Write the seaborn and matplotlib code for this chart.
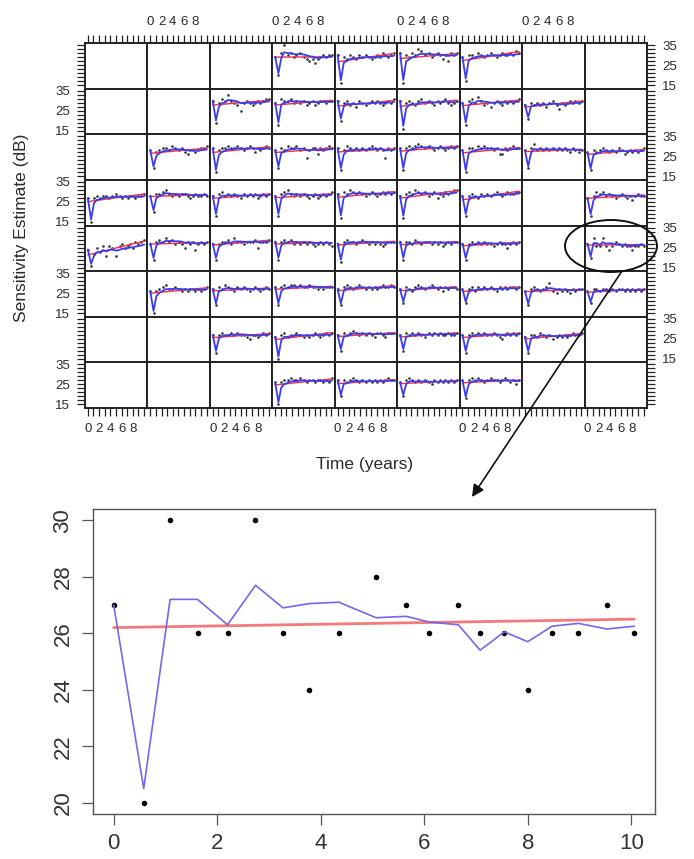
import numpy as np
import pandas as pd
import matplotlib
matplotlib.use("Agg")
import matplotlib.pyplot as plt
import seaborn as sns
from matplotlib.patches import Ellipse, FancyArrowPatch

sns.set_theme(style="white")
plt.rcParams['font.family'] = ['Liberation Sans', 'DejaVu Sans']

# ---------------- data ----------------
VISIT_YEARS = [0.0, 0.58, 1.09, 1.62, 2.20, 2.74, 3.27, 3.78, 4.35, 5.07,
               5.65, 6.09, 6.66, 7.08, 7.55, 8.00, 8.47, 8.98, 9.53, 10.06]

# enlarged location (row 5, column 9)
ZOOM_POINTS = [27, 20, 30, 26, 26, 30, 26, 24, 26, 28, 27, 26, 27, 26, 26, 24, 26, 26, 27, 26]
ZOOM_ESTIMATE = [27.0, 20.5, 27.2, 27.2, 26.3, 27.7, 26.9, 27.05, 27.1, 26.55,
                 26.6, 26.4, 26.3, 25.4, 26.05, 25.7, 26.25, 26.35, 26.15, 26.25]
ZOOM_TREND = [26.2, 26.5]

# gain of the running estimate for each visit (small panels)
FILTER_GAIN = [1.0, 0.9, 0.75, 0.45, 0.35, 0.3, 0.25, 0.22, 0.2, 0.18,
               0.17, 0.16, 0.15, 0.15, 0.15, 0.15, 0.15, 0.15, 0.15, 0.15]

# sensitivities for each tested location (row r, column c of the grid)
R1C4 = [29, 20, 31, 35, 30, 31, 29, 30, 31, 29, 28, 27, 28, 26, 28, 29, 30, 29, 30, 30]
R1C5 = [30, 16, 29, 28, 30, 29, 28, 30, 29, 30, 29, 28, 29, 30, 29, 31, 30, 29, 30, 31]
R1C6 = [31, 16, 30, 29, 31, 30, 33, 32, 30, 31, 29, 30, 31, 30, 28, 30, 27, 31, 30, 31]
R1C7 = [29, 17, 30, 30, 29, 31, 30, 29, 30, 31, 30, 29, 30, 31, 30, 30, 31, 30, 32, 31]

R2C3 = [30, 19, 29, 31, 30, 33, 30, 29, 28, 25, 29, 30, 29, 28, 29, 30, 29, 30, 31, 31]
R2C4 = [29, 18, 31, 30, 30, 31, 29, 30, 29, 30, 28, 29, 30, 28, 29, 30, 30, 29, 30, 30]
R2C5 = [30, 20, 29, 30, 28, 29, 27, 30, 29, 28, 29, 30, 29, 30, 29, 28, 29, 30, 29, 31]
R2C6 = [30, 16, 29, 30, 29, 28, 30, 31, 29, 30, 29, 28, 30, 29, 30, 31, 29, 28, 29, 30]
R2C7 = [29, 18, 30, 31, 29, 32, 30, 28, 29, 27, 29, 30, 29, 28, 30, 29, 30, 29, 30, 31]
R2C8 = [28, 21, 29, 28, 29, 28, 29, 27, 29, 30, 28, 26, 29, 28, 29, 30, 29, 30, 29, 30]

R3C2 = [28, 19, 27, 28, 29, 29, 28, 30, 29, 28, 29, 27, 26, 28, 28, 27, 28, 29, 29, 30]
R3C3 = [29, 17, 28, 29, 29, 30, 29, 29, 30, 29, 28, 29, 30, 29, 27, 29, 28, 29, 30, 29]
R3C4 = [28, 19, 29, 28, 30, 29, 29, 30, 28, 29, 24, 28, 29, 29, 26, 29, 28, 29, 30, 29]
R3C5 = [29, 18, 28, 30, 29, 28, 29, 28, 29, 28, 29, 30, 29, 28, 29, 28, 24, 29, 28, 29]
R3C6 = [29, 18, 29, 30, 29, 30, 31, 30, 29, 30, 29, 28, 29, 30, 29, 28, 29, 30, 29, 30]
R3C7 = [28, 17, 29, 29, 28, 30, 29, 30, 29, 29, 28, 29, 26, 26, 29, 28, 29, 30, 29, 29]
R3C8 = [28, 19, 29, 31, 28, 29, 28, 29, 28, 29, 28, 29, 28, 29, 28, 27, 29, 28, 27, 28]
R3C9 = [27, 18, 28, 27, 28, 29, 28, 27, 28, 27, 29, 28, 26, 27, 28, 27, 28, 27, 28, 29]

R4C1 = [27, 15, 27, 28, 27, 28, 28, 27, 28, 29, 28, 27, 28, 27, 28, 28, 27, 28, 28, 29]
R4C2 = [28, 20, 29, 29, 30, 31, 29, 28, 29, 28, 29, 29, 28, 27, 28, 29, 28, 28, 29, 28]
R4C3 = [28, 18, 29, 30, 28, 29, 28, 29, 28, 27, 29, 28, 29, 28, 29, 27, 28, 29, 28, 29]
R4C4 = [28, 18, 29, 30, 31, 29, 28, 29, 28, 29, 28, 27, 28, 29, 27, 28, 29, 28, 29, 30]
R4C5 = [29, 17, 30, 29, 31, 30, 29, 30, 29, 28, 29, 30, 29, 28, 29, 30, 29, 30, 29, 30]
R4C6 = [28, 17, 29, 30, 29, 31, 30, 29, 30, 28, 29, 30, 27, 29, 28, 30, 29, 30, 31, 31]
R4C7 = [28, 18, 28, 29, 28, 27, 29, 28, 29, 28, 29, 30, 29, 28, 29, 30, 29, 29, 30, 30]
R4C9 = [27, 18, 28, 30, 29, 30, 28, 29, 28, 27, 28, 29, 28, 27, 28, 26, 28, 29, 28, 28]

R5C1 = [24, 16, 22, 25, 23, 26, 21, 26, 25, 21, 26, 27, 25, 26, 27, 25, 28, 27, 28, 29]
R5C2 = [27, 19, 28, 29, 28, 30, 28, 29, 27, 28, 27, 25, 28, 27, 28, 24, 27, 28, 27, 28]
R5C3 = [27, 19, 27, 28, 28, 29, 27, 30, 28, 28, 27, 28, 28, 28, 29, 25, 28, 28, 28, 29]
R5C4 = [28, 19, 28, 29, 28, 29, 27, 28, 27, 28, 27, 28, 27, 26, 27, 28, 27, 28, 27, 26]
R5C5 = [27, 18, 28, 29, 28, 28, 27, 28, 29, 28, 27, 28, 27, 28, 27, 26, 27, 28, 28, 28]
R5C6 = [28, 19, 28, 28, 27, 29, 28, 27, 28, 28, 27, 28, 27, 28, 26, 27, 28, 27, 28, 28]
R5C7 = [27, 19, 27, 28, 27, 28, 27, 28, 27, 27, 26, 27, 28, 27, 27, 25, 27, 28, 27, 28]

R6C2 = [26, 15, 26, 27, 28, 29, 27, 27, 28, 27, 26, 27, 26, 27, 27, 26, 27, 26, 27, 28]
R6C3 = [27, 19, 28, 27, 29, 28, 27, 26, 28, 27, 28, 27, 26, 27, 28, 27, 26, 27, 28, 27]
R6C4 = [28, 19, 28, 29, 28, 29, 29, 28, 29, 28, 28, 29, 28, 28, 27, 28, 27, 28, 28, 28]
R6C5 = [27, 19, 28, 29, 28, 27, 28, 29, 28, 27, 28, 27, 28, 27, 28, 29, 28, 28, 29, 28]
R6C6 = [27, 20, 28, 27, 26, 28, 29, 28, 27, 28, 29, 28, 27, 28, 26, 28, 27, 28, 28, 27]
R6C7 = [27, 20, 27, 28, 26, 28, 27, 28, 27, 28, 27, 26, 28, 27, 28, 27, 28, 28, 27, 28]
R6C8 = [26, 19, 27, 28, 27, 26, 27, 28, 30, 26, 25, 27, 26, 27, 26, 25, 27, 26, 27, 27]
R6C9 = [26, 20, 27, 27, 26, 27, 27, 26, 27, 26, 27, 27, 26, 27, 26, 27, 26, 27, 26, 27]

R7C3 = [27, 18, 27, 28, 27, 27, 28, 27, 28, 27, 27, 26, 25, 27, 27, 26, 27, 28, 27, 28]
R7C4 = [26, 15, 27, 28, 26, 27, 27, 28, 27, 26, 27, 26, 27, 28, 27, 26, 27, 28, 27, 28]
R7C5 = [27, 19, 28, 27, 28, 29, 28, 27, 28, 27, 28, 27, 26, 28, 28, 27, 26, 28, 28, 28]
R7C6 = [27, 19, 28, 27, 28, 27, 28, 27, 26, 28, 27, 28, 27, 28, 27, 27, 28, 27, 27, 28]
R7C7 = [27, 18, 27, 28, 27, 28, 27, 28, 27, 27, 28, 27, 26, 25, 27, 28, 27, 28, 27, 28]
R7C8 = [26, 18, 27, 27, 26, 28, 27, 26, 27, 25, 26, 27, 26, 27, 26, 27, 28, 27, 27, 28]

R8C4 = [26, 15, 26, 27, 27, 28, 27, 27, 28, 27, 26, 27, 27, 26, 27, 27, 26, 27, 26, 28]
R8C5 = [27, 19, 27, 26, 27, 28, 27, 26, 27, 26, 27, 26, 27, 26, 27, 26, 27, 28, 27, 27]
R8C6 = [26, 19, 27, 28, 27, 26, 27, 26, 27, 26, 25, 27, 26, 27, 26, 27, 26, 27, 26, 27]
R8C7 = [27, 18, 27, 28, 27, 28, 27, 26, 27, 28, 27, 27, 26, 27, 28, 27, 26, 27, 25, 27]

LOCATIONS = {
    (1, 4): R1C4, (1, 5): R1C5, (1, 6): R1C6, (1, 7): R1C7,
    (2, 3): R2C3, (2, 4): R2C4, (2, 5): R2C5, (2, 6): R2C6, (2, 7): R2C7, (2, 8): R2C8,
    (3, 2): R3C2, (3, 3): R3C3, (3, 4): R3C4, (3, 5): R3C5, (3, 6): R3C6, (3, 7): R3C7,
    (3, 8): R3C8, (3, 9): R3C9,
    (4, 1): R4C1, (4, 2): R4C2, (4, 3): R4C3, (4, 4): R4C4, (4, 5): R4C5, (4, 6): R4C6,
    (4, 7): R4C7, (4, 9): R4C9,
    (5, 1): R5C1, (5, 2): R5C2, (5, 3): R5C3, (5, 4): R5C4, (5, 5): R5C5, (5, 6): R5C6,
    (5, 7): R5C7, (5, 9): ZOOM_POINTS,
    (6, 2): R6C2, (6, 3): R6C3, (6, 4): R6C4, (6, 5): R6C5, (6, 6): R6C6, (6, 7): R6C7,
    (6, 8): R6C8, (6, 9): R6C9,
    (7, 3): R7C3, (7, 4): R7C4, (7, 5): R7C5, (7, 6): R7C6, (7, 7): R7C7, (7, 8): R7C8,
    (8, 4): R8C4, (8, 5): R8C5, (8, 6): R8C6, (8, 7): R8C7,
}
ZOOM_LOCATION = (5, 9)

X_TICK_LABELS = ['0', '', '2', '', '4', '', '6', '', '8', '', '']
Y_TICKS = [15, 17, 19, 21, 23, 25, 27, 29, 31, 33, 35]
Y_TICK_LABELS = ['15', '', '', '', '', '25', '', '', '', '', '35']

BIG_X_TICKS = [0, 2, 4, 6, 8, 10]
BIG_Y_TICKS = [20, 22, 24, 26, 28, 30]


def running_estimate(vals):
    est = [float(vals[0])]
    for g, v in zip(FILTER_GAIN[1:], vals[1:]):
        est.append(est[-1] + g * (v - est[-1]))
    return est


# ---------------- figure ----------------
W, H = 694, 859
fig = plt.figure(figsize=(W / 100, H / 100), dpi=100)
fig.patch.set_facecolor('white')

def px_axes(x0, y0, x1, y1, **kw):
    return fig.add_axes([x0 / W, 1 - y1 / H, (x1 - x0) / W, (y1 - y0) / H], **kw)

GX0, GX1, GY0, GY1 = 85, 647, 43, 408
NR, NC = 8, 9
pw = (GX1 - GX0) / NC
ph = (GY1 - GY0) / NR

SMALL_BLUE = '#3b3bf0'
SMALL_RED = '#f03048'
TXT = '#2a2a2a'
times = np.array(VISIT_YEARS)

for r in range(1, NR + 1):
    for c in range(1, NC + 1):
        x0 = GX0 + (c - 1) * pw
        y0 = GY0 + (r - 1) * ph
        ax = px_axes(x0, y0, x0 + pw, y0 + ph)
        ax.set_facecolor('white')
        ax.set_xlim(-0.5, 10.6)
        ax.set_ylim(13.2, 36)
        for s in ax.spines.values():
            s.set_color('#222222')
            s.set_linewidth(1.4)
        vals = LOCATIONS.get((r, c))
        if vals is not None:
            if (r, c) == ZOOM_LOCATION:
                est = ZOOM_ESTIMATE
                trend = [ZOOM_TREND[0], ZOOM_TREND[1]]
            else:
                est = running_estimate(vals)
                b, a = np.polyfit(times, vals, 1)
                trend = [a + b * times[0], a + b * times[-1]]
            tt = [times[0], times[-1]]
            df = pd.DataFrame({'t': times, 'y': vals, 'est': est})
            dtr = pd.DataFrame({'t': tt, 'y': trend})
            sns.lineplot(data=dtr, x='t', y='y', color=SMALL_RED, lw=1.0, ax=ax)
            sns.lineplot(data=df, x='t', y='est', color=SMALL_BLUE, lw=1.3, ax=ax)
            sns.scatterplot(data=df, x='t', y='y', color='#333333', s=3.5, linewidth=0, ax=ax)
        ax.set_xlabel('')
        ax.set_ylabel('')
        # ticks
        ax.set_xticks(range(11))
        ax.set_yticks(Y_TICKS)
        ax.tick_params(axis='both', which='both', direction='out', length=6, width=0.9,
                       color='#222222', labelsize=9.5, labelcolor=TXT, pad=5,
                       top=False, bottom=False, left=False, right=False,
                       labeltop=False, labelbottom=False, labelleft=False, labelright=False)
        if r == 1:
            ax.tick_params(axis='x', top=True, labeltop=(c % 2 == 0))
            ax.set_xticklabels(X_TICK_LABELS)
        if r == NR:
            ax.tick_params(axis='x', bottom=True, labelbottom=(c % 2 == 1))
            ax.set_xticklabels(X_TICK_LABELS)
        if c == 1:
            ax.tick_params(axis='y', left=True, labelleft=(r % 2 == 0))
            ax.set_yticklabels(Y_TICK_LABELS)
        if c == NC:
            ax.tick_params(axis='y', right=True, labelright=(r % 2 == 1))
            ax.set_yticklabels(Y_TICK_LABELS)

fig.text(22 / W, 1 - 228 / H, 'Sensitivity Estimate (dB)', rotation=90,
         ha='center', va='center', fontsize=12.5, color=TXT)
fig.text(365 / W, 1 - 464 / H, 'Time (years)', ha='center', va='center',
         fontsize=12.5, color=TXT)

# ---------------- enlarged panel ----------------
bx = px_axes(93, 509, 655, 814)
bx.set_facecolor('white')
dz = pd.DataFrame({'t': times, 'y': ZOOM_POINTS, 'est': ZOOM_ESTIMATE})
dzt = pd.DataFrame({'t': [times[0], times[-1]], 'y': ZOOM_TREND})
sns.lineplot(data=dzt, x='t', y='y', color='#f27a7a', lw=2.0, ax=bx)
sns.lineplot(data=dz, x='t', y='est', color='#7468ea', lw=1.2, ax=bx)
sns.scatterplot(data=dz, x='t', y='y', color='black', s=16, linewidth=0, ax=bx)
bx.set_xlim(-0.4, 10.46)
bx.set_ylim(19.6, 30.4)
bx.set_xticks(BIG_X_TICKS)
bx.set_yticks(BIG_Y_TICKS)
bx.set_xticklabels([str(v) for v in BIG_X_TICKS])
bx.set_yticklabels([str(v) for v in BIG_Y_TICKS], rotation=90, va='center')
bx.set_xlabel('')
bx.set_ylabel('')
for s in bx.spines.values():
    s.set_color('#555555')
    s.set_linewidth(1.0)
bx.tick_params(axis='both', direction='out', length=8, width=0.9, color='#555555',
               labelsize=16, labelcolor='#333333', pad=6, left=True, bottom=True)

# ---------------- ellipse and arrow ----------------
ov = fig.add_axes([0, 0, 1, 1], zorder=10)
ov.set_xlim(0, W)
ov.set_ylim(H, 0)
ov.axis('off')
ov.patch.set_alpha(0)
ov.add_patch(Ellipse((611, 246), 92, 52, fill=False, edgecolor='#111111', lw=1.4))
ov.add_patch(FancyArrowPatch((622, 271), (472, 497), arrowstyle='-|>', mutation_scale=18,
                             color='#111111', lw=1.2, shrinkA=0, shrinkB=0))

fig.savefig('out.png', dpi=100, facecolor='white')
